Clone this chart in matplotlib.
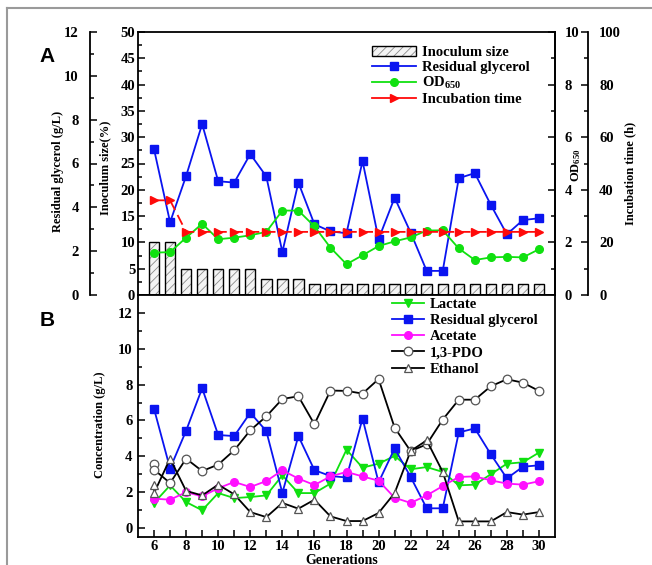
import matplotlib
matplotlib.use('Agg')
import matplotlib.pyplot as plt
from matplotlib.patches import Patch
from matplotlib.lines import Line2D
from matplotlib.legend_handler import HandlerTuple
from matplotlib.ticker import MultipleLocator, FixedLocator

# ---------------- data ----------------
generations = [6, 7, 8, 9, 10, 11, 12, 13, 14, 15, 16, 17, 18, 19, 20,
               21, 22, 23, 24, 25, 26, 27, 28, 29, 30]
inoculum_size = [10, 10, 5, 5, 5, 5, 5, 3, 3, 3, 2, 2, 2, 2, 2,
                 2, 2, 2, 2, 2, 2, 2, 2, 2, 2]
residual_glycerol = [6.65, 3.32, 5.43, 7.80, 5.19, 5.13, 6.43, 5.41, 1.96, 5.13,
                     3.23, 2.90, 2.82, 6.11, 2.55, 4.44, 2.85, 1.10, 1.10, 5.33,
                     5.56, 4.11, 2.77, 3.42, 3.50]
od650 = [1.61, 1.63, 2.18, 2.71, 2.12, 2.18, 2.27, 2.40, 3.21, 3.21,
         2.61, 1.80, 1.17, 1.51, 1.86, 2.04, 2.19, 2.45, 2.46, 1.77,
         1.33, 1.43, 1.45, 1.43, 1.74]
incubation_time = [36, 36, 24, 24, 24, 24, 24, 24, 24, 24, 24, 24, 24, 24, 24,
                   24, 24, 24, 24, 24, 24, 24, 24, 24, 24]

lactate = [1.40, 2.38, 1.45, 0.99, 1.95, 1.67, 1.73, 1.82, 2.94, 1.95,
           1.95, 2.48, 4.37, 3.37, 3.59, 4.02, 3.28, 3.40, 3.13, 2.38,
           2.42, 3.00, 3.59, 3.67, 4.21]
acetate = [1.64, 1.58, 2.00, 1.77, 2.22, 2.57, 2.29, 2.62, 3.22, 2.76,
           2.40, 2.88, 3.13, 2.88, 2.64, 1.69, 1.40, 1.82, 2.34, 2.85,
           2.88, 2.66, 2.48, 2.42, 2.61]
# 1,3-PDO and ethanol have two readings at generation 6
generations_b = [6, 6, 7, 8, 9, 10, 11, 12, 13, 14, 15, 16, 17, 18, 19, 20,
                 21, 22, 23, 24, 25, 26, 27, 28, 29, 30]
pdo = [3.55, 3.26, 2.51, 3.87, 3.18, 3.54, 4.34, 5.45, 6.23, 7.20, 7.35, 5.79,
       7.67, 7.65, 7.50, 8.31, 5.60, 4.29, 4.67, 6.05, 7.16, 7.16, 7.91, 8.30,
       8.11, 7.65]
ethanol = [2.38, 1.95, 3.87, 2.07, 1.82, 2.42, 1.88, 0.89, 0.61, 1.40, 1.08, 1.58,
           0.65, 0.39, 0.39, 0.84, 1.95, 4.30, 4.89, 3.13, 0.37, 0.37, 0.37, 0.89,
           0.75, 0.89]
xticks_b = [6, 8, 10, 12, 14, 16, 18, 20, 22, 24, 26, 28, 30]

# ---------------- style ----------------
plt.rcParams['font.family'] = ['Liberation Serif', 'DejaVu Serif']
plt.rcParams['font.weight'] = 'bold'
plt.rcParams['mathtext.fontset'] = 'custom'
plt.rcParams['mathtext.rm'] = 'Liberation Serif:bold'
plt.rcParams['mathtext.it'] = 'Liberation Serif:bold'
plt.rcParams['mathtext.bf'] = 'Liberation Serif:bold'
plt.rcParams['hatch.linewidth'] = 0.6
plt.rcParams['axes.linewidth'] = 1.3

BLUE = '#0a14f0'
GREEN = '#10e010'
RED = '#ff0a0a'
MAG = '#ff10ff'
TICKFS = 10.5

W, H = 652, 565
fig = plt.figure(figsize=(W / 100, H / 100), dpi=100)


def rect(x0, y0, x1, y1):
    return [x0 / W, 1 - y1 / H, (x1 - x0) / W, (y1 - y0) / H]


def style_y(ax, side, major, minor, pad):
    ax.yaxis.set_major_locator(MultipleLocator(major))
    ax.yaxis.set_minor_locator(MultipleLocator(minor))
    kw = dict(axis='y', which='both', direction='in', width=1.1,
              labelsize=TICKFS, pad=pad)
    if side == 'left':
        kw.update(left=True, right=False, labelleft=True, labelright=False)
    else:
        kw.update(left=False, right=True, labelleft=False, labelright=True)
    ax.tick_params(**kw)
    ax.tick_params(axis='y', which='major', length=5)
    ax.tick_params(axis='y', which='minor', length=3)


# ---------------- panel A ----------------
axA = fig.add_axes(rect(138, 32, 555, 295))
axA.bar(generations, inoculum_size, width=0.65, color='#f4f4f4',
        edgecolor='#8a8a8a', hatch='////', linewidth=0, zorder=2)
axA.bar(generations, inoculum_size, width=0.65, fill=False,
        edgecolor='black', linewidth=1.0, zorder=3)
axA.set_xlim(5, 31)
axA.set_ylim(0, 50)
style_y(axA, 'left', 5, 2.5, 2)
axA.tick_params(axis='x', which='both', bottom=False, top=False,
                labelbottom=False)

ax_g = axA.twinx()
ax_g.set_ylim(0, 12)
ax_g.yaxis.set_ticks_position('left')
ax_g.yaxis.set_label_position('left')
for s in ('right', 'top', 'bottom'):
    ax_g.spines[s].set_visible(False)
ax_g.spines['left'].set_visible(True)
ax_g.spines['left'].set_position(('axes', -48 / 417))
style_y(ax_g, 'left', 2, 1, 8)
ax_g.plot(generations, residual_glycerol, color=BLUE, lw=1.3, marker='s',
          ms=5.2, mec=BLUE, mfc=BLUE)

ax_od = axA.twinx()
ax_od.set_ylim(0, 10)
for s in ('left', 'top', 'bottom'):
    ax_od.spines[s].set_visible(False)
style_y(ax_od, 'right', 2, 1, 7)
ax_od.plot(generations, od650, color=GREEN, lw=1.3, marker='o', ms=5.5,
           mec=GREEN, mfc=GREEN)

ax_t = axA.twinx()
ax_t.set_ylim(0, 100)
for s in ('left', 'top', 'bottom'):
    ax_t.spines[s].set_visible(False)
ax_t.spines['right'].set_position(('axes', 1 + 33 / 417))
style_y(ax_t, 'right', 20, 10, 8)
ax_t.plot(generations, incubation_time, color=RED, lw=1.3, marker='>',
          ms=6, mec=RED, mfc=RED, dashes=(6, 3))

hA = [(Patch(facecolor='#f4f4f4', edgecolor='#8a8a8a', hatch='////', lw=0),
       Patch(fill=False, edgecolor='black', lw=1.0)),
      Line2D([], [], color=BLUE, lw=1.3, marker='s', ms=5.2),
      Line2D([], [], color=GREEN, lw=1.3, marker='o', ms=5.5),
      Line2D([], [], color=RED, lw=1.3, marker='>', ms=6)]
lA = ['Inoculum size', 'Residual glycerol', 'OD$_{650}$', 'Incubation time']
ax_t.legend(hA, lA, handler_map={tuple: HandlerTuple(ndivide=1)},
            loc='upper left', bbox_to_anchor=((372 - 138) / 417, (295 - 46) / 263),
            frameon=False, fontsize=10.5, handlelength=3.0, handletextpad=0.4,
            labelspacing=0.1, borderpad=0, borderaxespad=0)

# ---------------- panel B ----------------
axB = fig.add_axes(rect(138, 295, 555, 537))
axB.set_xlim(5, 31)
axB.set_ylim(-0.5, 13)
axB.yaxis.set_major_locator(FixedLocator([0, 2, 4, 6, 8, 10, 12]))
axB.yaxis.set_minor_locator(FixedLocator([1, 3, 5, 7, 9, 11]))
axB.xaxis.set_major_locator(FixedLocator(xticks_b))
axB.xaxis.set_minor_locator(FixedLocator([7, 9, 11, 13, 15, 17, 19, 21, 23, 25, 27, 29]))
axB.tick_params(axis='y', which='both', direction='in', left=True, right=False,
                width=1.1, labelsize=TICKFS, pad=4)
axB.tick_params(axis='y', which='major', length=5)
axB.tick_params(axis='y', which='minor', length=3)
axB.tick_params(axis='x', which='both', direction='in', bottom=True, top=False,
                width=1.1, length=5, labelsize=TICKFS, pad=2.5)

axB.plot(generations, lactate, color=GREEN, lw=1.3, marker='v', ms=6,
         mec=GREEN, mfc=GREEN, label='Lactate')
axB.plot(generations, residual_glycerol, color=BLUE, lw=1.3, marker='s', ms=5.2,
         mec=BLUE, mfc=BLUE, label='Residual glycerol')
axB.plot(generations, acetate, color=MAG, lw=1.3, marker='o', ms=5.5,
         mec=MAG, mfc=MAG, label='Acetate')
axB.plot(generations_b, pdo, color='black', lw=1.3, marker='o', ms=6.2,
         mec='#555555', mfc='white', mew=0.9, label='1,3-PDO')
axB.plot(generations_b, ethanol, color='black', lw=1.3, marker='^', ms=6.2,
         mec='#555555', mfc='white', mew=0.9, label='Ethanol')
legB = axB.legend(loc='upper left',
                  bbox_to_anchor=((392 - 138) / 417, (537 - 298) / 242),
                  frameon=False, fontsize=10.5, handlelength=2.2,
                  handletextpad=0.4, labelspacing=0.2, borderpad=0,
                  borderaxespad=0)

# ---------------- text ----------------
def ftext(x, y, s, **kw):
    fig.text(x / W, 1 - y / H, s, ha='center', va='center', **kw)


ftext(58, 171, 'Residual glycerol (g/L)', rotation=90, fontsize=9)
ftext(105, 168, 'Inoculum size(%)', rotation=90, fontsize=9)
ftext(576, 165, 'OD$_{650}$', rotation=90, fontsize=9)
ftext(630, 173, 'Incubation time (h)', rotation=90, fontsize=9)
ftext(100, 425, 'Concentration (g/L)', rotation=90, fontsize=9)
ftext(342, 560, 'Generations', fontsize=10)
ftext(47, 57, 'A', family='Liberation Sans', fontsize=15, fontweight='bold')
ftext(47, 320, 'B', family='Liberation Sans', fontsize=15, fontweight='bold')

# outer frame (top and left edges)
fig.add_artist(Line2D([7 / W, 7 / W], [0, 1 - 8 / H], transform=fig.transFigure,
                      color='#9a9a9a', lw=1.5))
fig.add_artist(Line2D([7 / W, 1], [1 - 8 / H, 1 - 8 / H], transform=fig.transFigure,
                      color='#9a9a9a', lw=1.5))

fig.savefig('out.png', dpi=100)
